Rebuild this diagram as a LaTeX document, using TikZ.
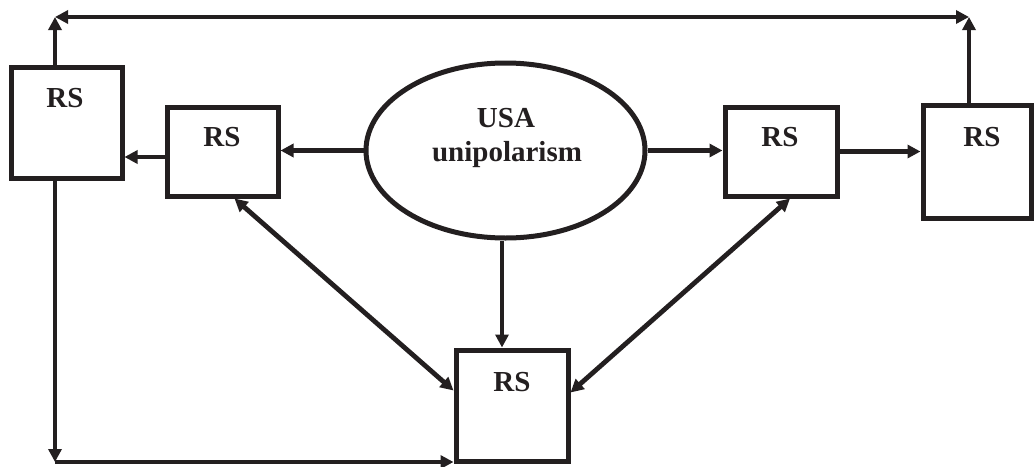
\documentclass[tikz,border=0pt]{standalone}
\usepackage{fontspec}
\setmainfont{Liberation Serif}
\usetikzlibrary{arrows.meta,shapes.geometric}
\definecolor{ink}{HTML}{231F20}
\tikzset{
  box/.style={draw=ink, line width=5pt, inner sep=0pt, outer sep=2.5pt},
  lbl/.style={text=ink, font=\fontsize{29}{35}\selectfont\bfseries, inner sep=0pt},
  conn/.style={draw=ink, line width=4.8pt, -{Triangle[length=13pt,width=13pt]}},
  dconn/.style={draw=ink, line width=4.8pt, {Triangle[length=13pt,width=13pt]}-{Triangle[length=13pt,width=13pt]}}
}
\begin{document}
\begin{tikzpicture}[x=1pt,y=-1pt]
\useasboundingbox (0,0) rectangle (1036,466);
% boxes
\node[box, minimum width=111pt, minimum height=111pt] (L) at (66.5,122.5) {};
\node[box, minimum width=111pt, minimum height=89pt] (I1) at (222.5,151.5) {};
\node[box, minimum width=112pt, minimum height=89pt] (I2) at (781,151.5) {};
\node[box, minimum width=108pt, minimum height=113pt] (R) at (977,161.5) {};
\node[box, minimum width=112pt, minimum height=111pt] (B) at (512,405.5) {};
\node[box, ellipse, minimum width=279pt, minimum height=175pt] (U) at (505.5,150.5) {};
% labels
\node[lbl] (tL) at (65,98) {RS};
\node[lbl] (tI1) at (222,137) {RS};
\node[lbl] (tI2) at (780,137) {RS};
\node[lbl] (tR) at (982,137) {RS};
\node[lbl] (tB) at (512,382) {RS};
\node[lbl, anchor=base] (tU1) at (506,127) {USA};
\node[lbl, anchor=base] (tU2) at (507,161) {unipolarism};
% corner coordinates
\coordinate (TL) at (55,17);
\coordinate (TR) at (969,17);
\coordinate (BL) at (55,462);
% connectors
\draw[conn] (L.north -| TL) -- (TL);
\draw[conn] (R.north -| TR) -- (TR);
\draw[dconn] (TL) -- (TR);
\draw[conn] (L.south -| BL) -- (BL);
\draw[conn] (BL) -- (BL -| B.west);
\draw[conn] ([yshift=-5.5pt]I1.west) -- ([yshift=-5.5pt]I1.west -| L.east);
\draw[conn] (U.west) -- (U.west -| I1.east);
\draw[conn] (U.east) -- (U.east -| I2.west);
\draw[conn] (I2.east) -- (I2.east -| R.west);
\draw[conn] ([xshift=-3.5pt]U.south) -- ([xshift=-3.5pt]U.south |- B.north);
\draw[dconn] ([xshift=12pt]I1.south) -- ([yshift=15pt]B.west);
\draw[dconn] ([xshift=9pt]I2.south) -- ([yshift=13pt]B.east);
\end{tikzpicture}
\end{document}
